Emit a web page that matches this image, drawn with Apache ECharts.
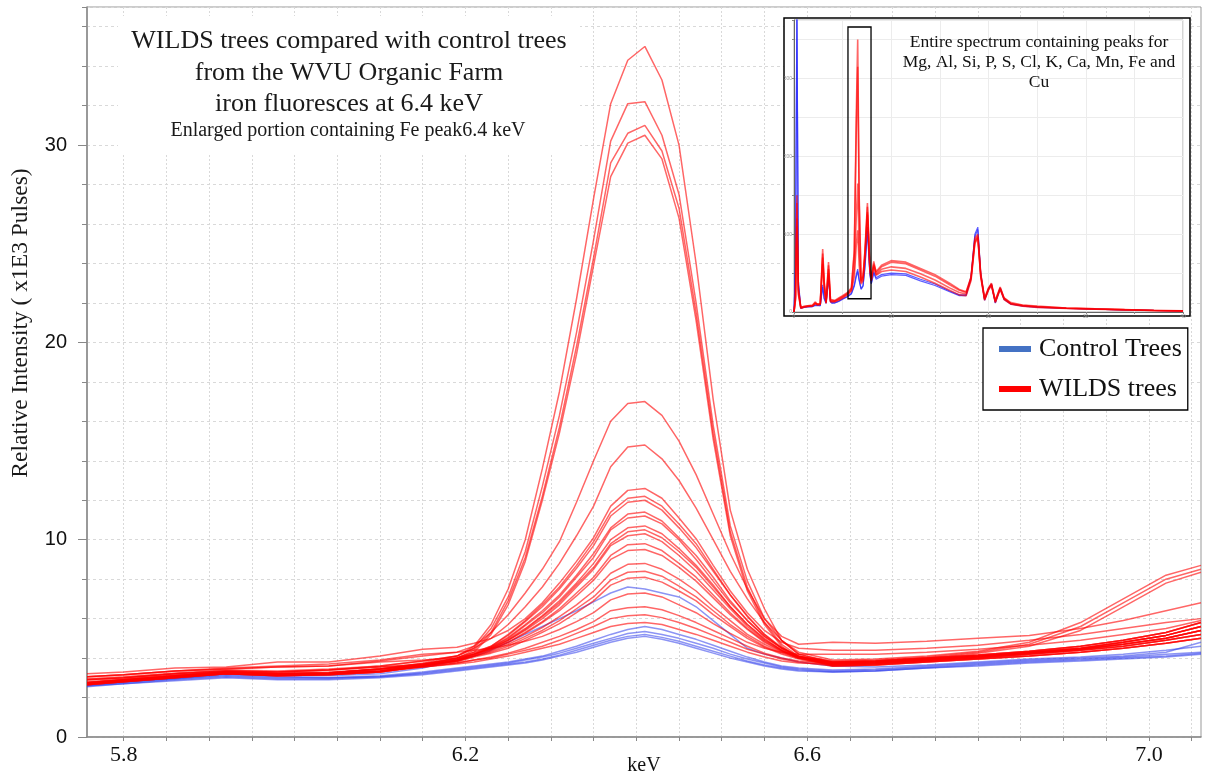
<!DOCTYPE html>
<html>
<head>
<meta charset="utf-8">
<script src="https://cdn.jsdelivr.net/npm/echarts@6.0.0/dist/echarts.min.js"></script>
<style>
html,body{margin:0;padding:0;background:#fff;}
#chart{width:1209px;height:782px;}
</style>
</head>
<body>
<div id="chart"></div>
<script>
// ---------- main chart data (keV vs relative intensity, x1E3 pulses) ----------
const keV = [5.757, 5.80, 5.86, 5.92, 5.98, 6.04, 6.10, 6.15,
  6.19, 6.21, 6.23, 6.25, 6.27, 6.29, 6.31, 6.33, 6.35, 6.37, 6.39, 6.41, 6.43, 6.45, 6.47, 6.49, 6.51, 6.53, 6.55, 6.57, 6.59,
  6.63, 6.68, 6.74, 6.80, 6.86, 6.92, 6.97, 7.02, 7.061];

const wilds01 = [2.9, 3.0, 3.2, 3.35, 3.3, 3.4, 3.6, 3.85,
  4.1, 4.6, 5.7, 7.5, 10.0, 13.6, 17.5, 22.2, 27.3, 32.1, 34.3, 35.0, 33.3, 30.0, 24.0, 17.1, 11.5, 8.5, 6.5, 4.9, 4.2,
  3.75, 3.8, 3.95, 4.1, 4.3, 4.5, 4.8, 5.15, 5.6];
const wilds02 = [2.75, 2.9, 3.1, 3.3, 3.2, 3.25, 3.45, 3.75,
  4.1, 4.5, 5.5, 7.1, 9.4, 12.7, 16.3, 20.5, 25.2, 30.2, 32.1, 32.2, 30.5, 27.5, 22.0, 15.8, 10.7, 7.9, 6.0, 4.9, 4.2,
  3.8, 3.85, 4.0, 4.15, 4.35, 4.6, 4.9, 5.3, 5.8];
const wilds03 = [2.7, 2.85, 3.05, 3.25, 3.15, 3.2, 3.35, 3.7,
  4.0, 4.4, 5.3, 6.9, 9.1, 12.2, 15.7, 19.8, 24.3, 29.1, 30.6, 31.0, 29.7, 26.8, 21.5, 15.4, 10.4, 7.6, 5.8, 4.7, 4.1,
  3.7, 3.75, 3.9, 4.05, 4.25, 4.45, 4.7, 5.0, 5.4];
const wilds04 = [2.8, 2.95, 3.15, 3.3, 3.25, 3.3, 3.45, 3.7,
  4.0, 4.3, 5.2, 6.7, 8.9, 12.0, 15.4, 19.4, 23.9, 28.4, 30.1, 30.5, 29.3, 26.3, 21.1, 15.1, 10.2, 7.4, 5.7, 4.6, 4.0,
  3.65, 3.7, 3.85, 4.0, 4.2, 4.4, 4.6, 4.9, 5.2];
const wilds05 = [3.05, 3.15, 3.35, 3.45, 3.55, 3.6, 3.85, 4.1,
  4.3, 4.6, 5.3, 6.2, 7.3, 8.5, 9.9, 11.9, 14.0, 16.0, 16.9, 17.0, 16.3, 15.0, 13.3, 11.3, 9.3, 7.5, 6.0, 5.1, 4.7,
  4.8, 4.75, 4.85, 5.0, 5.15, 5.5, 5.9, 6.4, 6.8];
const wilds06 = [2.95, 3.05, 3.25, 3.4, 3.35, 3.45, 3.6, 3.85,
  4.1, 4.5, 5.0, 5.7, 6.6, 7.6, 8.8, 10.2, 11.7, 13.7, 14.7, 14.8, 14.1, 13.0, 11.6, 10.0, 8.4, 7.0, 5.8, 4.9, 4.3,
  3.9, 3.95, 4.1, 4.35, 4.8, 5.8, 7.0, 8.2, 8.7];
const wilds07 = [3.2, 3.3, 3.5, 3.55, 3.8, 3.8, 4.1, 4.45,
  4.55, 4.75, 5.0, 5.4, 6.0, 6.8, 7.8, 8.9, 10.1, 11.7, 12.5, 12.6, 12.1, 11.1, 10.05, 8.7, 7.4, 6.3, 5.4, 4.8, 4.5,
  4.4, 4.4, 4.5, 4.65, 4.9, 5.2, 5.5, 5.8, 6.0];
const wilds08 = [2.7, 2.85, 3.05, 3.2, 3.15, 3.2, 3.35, 3.65,
  4.0, 4.3, 4.6, 5.2, 5.9, 6.7, 7.6, 8.7, 9.9, 11.4, 12.1, 12.2, 11.7, 10.8, 9.8, 8.5, 7.2, 6.15, 5.2, 4.55, 4.1,
  3.85, 3.9, 4.05, 4.3, 4.7, 5.6, 6.8, 8.0, 8.5];
const wilds09 = [2.65, 2.8, 3.0, 3.2, 3.1, 3.15, 3.3, 3.6,
  3.95, 4.25, 4.6, 5.15, 5.85, 6.6, 7.5, 8.55, 9.7, 11.2, 11.9, 12.0, 11.5, 10.6, 9.6, 8.4, 7.2, 6.1, 5.2, 4.5, 4.1,
  3.75, 3.8, 3.95, 4.1, 4.3, 4.5, 4.8, 5.15, 5.6];
const wilds10 = [2.75, 2.9, 3.1, 3.3, 3.2, 3.25, 3.45, 3.7,
  3.95, 4.2, 4.55, 5.05, 5.7, 6.4, 7.2, 8.2, 9.3, 10.6, 11.3, 11.4, 10.95, 10.1, 9.2, 8.1, 6.9, 5.9, 5.1, 4.5, 4.1,
  3.7, 3.75, 3.9, 4.05, 4.25, 4.45, 4.7, 5.0, 5.4];
const wilds11 = [2.9, 3.0, 3.2, 3.35, 3.3, 3.4, 3.55, 3.7,
  3.9, 4.2, 4.55, 5.0, 5.65, 6.3, 7.1, 8.1, 9.1, 10.5, 11.1, 11.2, 10.8, 10.0, 9.0, 7.9, 6.8, 5.9, 5.1, 4.5, 4.05,
  3.8, 3.85, 4.0, 4.25, 4.6, 5.4, 6.6, 7.8, 8.35];
const wilds12 = [2.7, 2.85, 3.05, 3.25, 3.15, 3.2, 3.35, 3.6,
  3.9, 4.2, 4.5, 4.95, 5.5, 6.15, 6.9, 7.8, 8.8, 10.0, 10.6, 10.7, 10.3, 9.55, 8.7, 7.7, 6.6, 5.7, 5.0, 4.4, 4.05,
  3.8, 3.85, 4.0, 4.15, 4.35, 4.6, 4.9, 5.3, 5.8];
const wilds13 = [2.65, 2.8, 3.0, 3.2, 3.1, 3.15, 3.3, 3.6,
  3.9, 4.15, 4.5, 4.9, 5.45, 6.1, 6.8, 7.7, 8.6, 9.8, 10.4, 10.5, 10.1, 9.4, 8.6, 7.6, 6.6, 5.7, 4.95, 4.4, 4.05,
  3.65, 3.7, 3.85, 4.0, 4.2, 4.4, 4.6, 4.9, 5.2];
const wilds14 = [2.75, 2.9, 3.1, 3.3, 3.2, 3.25, 3.45, 3.65,
  3.85, 4.15, 4.45, 4.9, 5.4, 6.0, 6.7, 7.6, 8.5, 9.7, 10.2, 10.3, 9.9, 9.2, 8.4, 7.45, 6.5, 5.6, 4.9, 4.4, 4.05,
  3.6, 3.65, 3.8, 3.95, 4.1, 4.3, 4.5, 4.75, 5.0];
const wilds15 = [3.05, 3.15, 3.35, 3.45, 3.55, 3.6, 3.8, 3.9,
  4.0, 4.2, 4.45, 4.8, 5.3, 5.85, 6.5, 7.3, 8.1, 9.2, 9.75, 9.8, 9.45, 8.8, 8.1, 7.2, 6.3, 5.5, 4.85, 4.35, 4.0,
  3.75, 3.8, 3.95, 4.1, 4.3, 4.5, 4.8, 5.15, 5.6];
const wilds16 = [2.7, 2.85, 3.05, 3.25, 3.15, 3.2, 3.35, 3.6,
  3.85, 4.1, 4.4, 4.8, 5.25, 5.8, 6.4, 7.15, 7.95, 9.0, 9.45, 9.5, 9.2, 8.6, 7.9, 7.05, 6.2, 5.45, 4.8, 4.35, 4.0,
  3.7, 3.75, 3.9, 4.05, 4.25, 4.45, 4.7, 5.0, 5.4];
const wilds17 = [2.65, 2.8, 3.0, 3.2, 3.1, 3.15, 3.3, 3.6,
  3.85, 4.1, 4.35, 4.7, 5.1, 5.55, 6.1, 6.7, 7.4, 8.3, 8.75, 8.8, 8.5, 8.0, 7.4, 6.6, 5.9, 5.2, 4.7, 4.3, 4.0,
  3.8, 3.85, 4.0, 4.15, 4.35, 4.6, 4.9, 5.3, 5.8];
const wilds18 = [2.9, 3.0, 3.2, 3.35, 3.3, 3.4, 3.55, 3.65,
  3.85, 4.1, 4.3, 4.6, 5.0, 5.4, 5.9, 6.5, 7.1, 7.95, 8.35, 8.4, 8.15, 7.65, 7.1, 6.4, 5.7, 5.1, 4.6, 4.25, 4.0,
  3.65, 3.7, 3.85, 4.0, 4.2, 4.4, 4.6, 4.9, 5.2];
const wilds19 = [2.75, 2.9, 3.1, 3.3, 3.2, 3.25, 3.45, 3.6,
  3.8, 4.05, 4.25, 4.5, 4.9, 5.3, 5.75, 6.3, 6.9, 7.7, 8.05, 8.1, 7.85, 7.4, 6.9, 6.2, 5.6, 5.0, 4.55, 4.2, 3.95,
  3.6, 3.65, 3.8, 3.95, 4.1, 4.3, 4.5, 4.75, 5.0];
const wilds20 = [3.05, 3.15, 3.35, 3.5, 3.6, 3.7, 3.9, 4.2,
  4.3, 4.4, 4.5, 4.65, 4.85, 5.1, 5.45, 5.85, 6.3, 6.95, 7.25, 7.3, 7.1, 6.7, 6.3, 5.75, 5.25, 4.8, 4.5, 4.3, 4.2,
  4.2, 4.2, 4.3, 4.45, 4.65, 4.9, 5.2, 5.5, 5.9];
const wilds21 = [2.7, 2.85, 3.05, 3.25, 3.15, 3.2, 3.35, 3.55,
  3.75, 3.9, 4.05, 4.25, 4.5, 4.8, 5.1, 5.45, 5.85, 6.4, 6.55, 6.6, 6.45, 6.15, 5.8, 5.4, 5.0, 4.6, 4.25, 4.0, 3.85,
  3.75, 3.8, 3.95, 4.1, 4.3, 4.5, 4.8, 5.15, 5.6];
const wilds22 = [2.65, 2.8, 3.0, 3.2, 3.1, 3.15, 3.3, 3.55,
  3.75, 3.9, 4.0, 4.2, 4.4, 4.6, 4.9, 5.25, 5.6, 6.0, 6.15, 6.2, 6.05, 5.8, 5.5, 5.15, 4.8, 4.45, 4.2, 3.95, 3.8,
  3.6, 3.65, 3.8, 3.95, 4.1, 4.3, 4.5, 4.75, 5.0];
const wilds23 = [2.75, 2.9, 3.1, 3.3, 3.2, 3.25, 3.45, 3.55,
  3.7, 3.8, 3.95, 4.1, 4.3, 4.5, 4.7, 5.0, 5.3, 5.6, 5.75, 5.8, 5.7, 5.45, 5.2, 4.9, 4.6, 4.3, 4.05, 3.85, 3.75,
  3.7, 3.75, 3.9, 4.05, 4.25, 4.45, 4.7, 5.0, 5.4];

const control01 = [2.7, 2.8, 3.0, 3.2, 3.1, 3.1, 3.2, 3.5,
  3.9, 4.1, 4.4, 4.8, 5.2, 5.6, 6.0, 6.4, 6.85, 7.3, 7.6, 7.5, 7.3, 7.1, 6.6, 5.9, 5.2, 4.5, 4.2, 4.0, 3.8,
  3.6, 3.55, 3.65, 3.8, 3.95, 4.05, 4.2, 4.4, 4.6];
const control02 = [2.65, 2.8, 2.95, 3.1, 3.0, 3.0, 3.1, 3.3,
  3.5, 3.6, 3.7, 3.8, 3.95, 4.1, 4.35, 4.6, 4.9, 5.2, 5.45, 5.6, 5.45, 5.2, 4.95, 4.65, 4.35, 4.05, 3.8, 3.6, 3.5,
  3.4, 3.45, 3.6, 3.75, 3.9, 4.0, 4.1, 4.3, 4.8];
const control03 = [2.6, 2.75, 2.95, 3.15, 3.05, 3.0, 3.05, 3.25,
  3.45, 3.55, 3.65, 3.75, 3.9, 4.05, 4.25, 4.5, 4.75, 5.0, 5.25, 5.35, 5.2, 5.0, 4.75, 4.5, 4.2, 3.95, 3.75, 3.55, 3.45,
  3.35, 3.4, 3.55, 3.7, 3.85, 3.95, 4.05, 4.2, 4.3];
const control04 = [2.6, 2.7, 2.9, 3.05, 2.95, 2.95, 3.05, 3.2,
  3.4, 3.5, 3.6, 3.7, 3.8, 3.95, 4.15, 4.4, 4.65, 4.9, 5.1, 5.2, 5.05, 4.85, 4.6, 4.35, 4.1, 3.85, 3.65, 3.5, 3.4,
  3.3, 3.35, 3.5, 3.65, 3.8, 3.9, 4.0, 4.1, 4.25];
const control05 = [2.55, 2.7, 2.85, 3.0, 2.9, 2.9, 3.0, 3.15,
  3.35, 3.45, 3.55, 3.65, 3.75, 3.9, 4.1, 4.3, 4.55, 4.8, 5.0, 5.1, 4.95, 4.75, 4.5, 4.25, 4.0, 3.8, 3.6, 3.45, 3.35,
  3.3, 3.35, 3.5, 3.6, 3.75, 3.85, 3.95, 4.05, 4.2];

const wildsList = [wilds01, wilds02, wilds03, wilds04, wilds05, wilds06, wilds07, wilds08, wilds09, wilds10, wilds11, wilds12,
  wilds13, wilds14, wilds15, wilds16, wilds17, wilds18, wilds19, wilds20, wilds21, wilds22, wilds23];
const controlList = [control01, control02, control03, control04, control05];

// tick / label values
const xTickValues = [5.8, 5.85, 5.9, 5.95, 6.0, 6.05, 6.1, 6.15, 6.2, 6.25, 6.3, 6.35, 6.4, 6.45, 6.5, 6.55, 6.6,
  6.65, 6.7, 6.75, 6.8, 6.85, 6.9, 6.95, 7.0, 7.05];
const xLabelValues = [5.8, 6.2, 6.6, 7.0];
const yLabelValues = [0, 10, 20, 30];

// ---------- inset: entire spectrum ----------
const insetKeV = [0, 0.15, 0.3, 0.45, 0.7, 1.0, 1.4, 1.6, 1.9, 2.2,
  2.4, 2.7, 2.95, 3.1, 3.3, 3.55, 3.75, 3.9, 4.2, 4.6,
  5.0, 5.5, 5.9, 6.2, 6.4, 6.55, 6.7, 6.9, 7.1, 7.3,
  7.55, 7.8, 7.95, 8.2, 8.45, 9.0, 10, 11.5, 13, 14.5,
  16, 17, 17.7, 18.2, 18.6, 18.9, 19.2, 19.6, 20.0, 20.3,
  20.7, 21.2, 21.6, 22.3, 23.5, 25, 28, 31, 34, 37, 40];
const insetWilds1 = [0, 20, 150, 30, 6, 7, 8, 7, 8, 12,
  9, 10, 81, 40, 12, 64, 15, 13, 14, 17,
  20, 24, 30, 80, 250, 350, 150, 40, 45, 80,
  140, 60, 42, 65, 50, 58, 64, 62, 54, 46,
  35, 28, 25, 45, 95, 100, 50, 17, 30, 37,
  14, 32, 18, 11, 8.5, 7, 5, 4, 3, 2, 1.5];
const insetWilds2 = [0, 18, 140, 28, 6, 7, 8, 7, 9, 13,
  9, 11, 75, 38, 13, 60, 16, 14, 15, 18,
  21, 25, 31, 75, 230, 315, 140, 41, 46, 78,
  135, 58, 43, 62, 52, 60, 66, 64, 56, 48,
  37, 29, 26, 44, 92, 98, 48, 18, 31, 36,
  15, 31, 18, 12, 9, 7.5, 5.2, 4, 3, 2.2, 1.5];
const insetWilds3 = [0, 16, 120, 25, 5, 6, 7, 6.5, 8, 11,
  8.5, 10, 70, 35, 12, 55, 14, 13, 14, 16,
  19, 23, 28, 55, 120, 165, 80, 38, 42, 72,
  128, 56, 41, 60, 48, 55, 58, 56, 49, 41,
  31, 25, 23, 42, 90, 96, 46, 16, 29, 35,
  13, 30, 17, 10.5, 8, 6.5, 4.8, 3.8, 2.8, 2, 1.4];
const insetWilds4 = [0, 15, 110, 22, 5, 6, 7, 6.5, 7.5, 10.5,
  8, 9.5, 62, 32, 11, 50, 13, 12, 13, 15,
  18, 22, 27, 45, 85, 105, 60, 36, 40, 70,
  125, 55, 40, 58, 47, 52, 54, 52, 45, 37,
  28, 22, 21, 40, 88, 95, 45, 15, 28, 34,
  12, 29, 16, 10, 7.5, 6, 4.5, 3.5, 2.6, 1.9, 1.3];
const insetControl1 = [0, 60, 400, 40, 5, 6, 7, 6, 7, 9,
  7, 8, 35, 18, 12, 47, 14, 11, 12, 14,
  17, 20, 24, 35, 48, 55, 42, 30, 34, 60,
  109, 50, 37, 52, 44, 48, 50, 49, 42, 36,
  27, 22, 22, 45, 100, 109, 50, 16, 30, 36,
  12, 31, 17, 10.5, 8, 6.5, 4.8, 3.8, 2.8, 2, 1.4];
const insetControl2 = [0, 50, 380, 35, 5, 6, 6.5, 6, 7, 8.5,
  7, 8, 32, 17, 11, 43, 13, 10.5, 11.5, 13.5,
  16.5, 19.5, 23, 33, 45, 52, 40, 29, 33, 57,
  104, 48, 36, 50, 42, 46, 48, 47, 40, 34,
  26, 21, 21, 43, 97, 106, 48, 15, 29, 35,
  11.5, 30, 16, 10, 7.5, 6, 4.5, 3.5, 2.6, 1.9, 1.3];
const insetWildsList = [insetWilds1, insetWilds2, insetWilds3, insetWilds4];
const insetControlList = [insetControl1, insetControl2];
const zoomBox = [[5.55, 17], [7.92, 366]];

const titleLines = ['WILDS trees compared with control trees', 'from the WVU Organic Farm', 'iron fluoresces at 6.4 keV',
  'Enlarged portion containing Fe peak6.4 keV'];
const insetLines = ['Entire spectrum containing peaks for', 'Mg, Al, Si, P, S, Cl, K, Ca, Mn, Fe and', 'Cu'];

// ---------- build ----------
const RED = 'rgba(255,0,0,0.6)';
const BLUE = 'rgba(45,60,235,0.55)';
const SERIF = '"Liberation Serif", "Times New Roman", serif';
const SANS = '"Liberation Sans", Arial, sans-serif';

const series = [];
controlList.forEach(v => series.push({
  type: 'line', name: 'Control Trees', xAxisIndex: 0, yAxisIndex: 0, symbol: 'none', silent: true, z: 2,
  data: keV.map((x, i) => [x, v[i]]), lineStyle: { color: BLUE, width: 1.5 }, itemStyle: { color: BLUE }
}));
wildsList.forEach(v => series.push({
  type: 'line', name: 'WILDS trees', xAxisIndex: 0, yAxisIndex: 0, symbol: 'none', silent: true, z: 3,
  data: keV.map((x, i) => [x, v[i]]), lineStyle: { color: RED, width: 1.5 }, itemStyle: { color: RED }
}));
insetControlList.forEach(v => series.push({
  type: 'line', name: 'insetC', xAxisIndex: 1, yAxisIndex: 2, symbol: 'none', silent: true, z: 7,
  data: insetKeV.map((x, i) => [x, v[i]]), lineStyle: { color: 'rgba(40,40,255,0.75)', width: 1.2 }
}));
insetWildsList.forEach((v, k) => series.push({
  type: 'line', name: 'insetW', xAxisIndex: 1, yAxisIndex: 2, symbol: 'none', silent: true, z: 8,
  data: insetKeV.map((x, i) => [x, v[i]]), lineStyle: { color: 'rgba(255,0,0,0.6)', width: 1.6 },
  markArea: k === 0 ? {
    silent: true, z: 9,
    itemStyle: { color: 'rgba(0,0,0,0)', borderColor: '#000', borderWidth: 1.3 },
    data: [[{ coord: zoomBox[0] }, { coord: zoomBox[1] }]]
  } : undefined
}));

const graphics = [
  { type: 'rect', shape: { x: 118, y: 16, width: 462, height: 138 }, style: { fill: '#fff' }, z: 1, silent: true },
  { type: 'rect', shape: { x: 784, y: 18, width: 406, height: 298 }, style: { fill: '#fff', stroke: '#000', lineWidth: 1.5 }, z: 1, silent: true },
  { type: 'text', x: 349, y: 41, z: 10, style: { text: titleLines[0], font: '26px ' + SERIF, fill: '#1a1a1a', align: 'center', verticalAlign: 'middle' } },
  { type: 'text', x: 349, y: 73, z: 10, style: { text: titleLines[1], font: '26px ' + SERIF, fill: '#1a1a1a', align: 'center', verticalAlign: 'middle' } },
  { type: 'text', x: 349, y: 104, z: 10, style: { text: titleLines[2], font: '26px ' + SERIF, fill: '#1a1a1a', align: 'center', verticalAlign: 'middle' } },
  { type: 'text', x: 348, y: 131, z: 10, style: { text: titleLines[3], font: '20px ' + SERIF, fill: '#1a1a1a', align: 'center', verticalAlign: 'middle' } },
  { type: 'text', x: 1039, y: 42, z: 10, style: { text: insetLines[0], font: '17.5px ' + SERIF, fill: '#111', align: 'center', verticalAlign: 'middle' } },
  { type: 'text', x: 1039, y: 62, z: 10, style: { text: insetLines[1], font: '17.5px ' + SERIF, fill: '#111', align: 'center', verticalAlign: 'middle' } },
  { type: 'text', x: 1039, y: 82, z: 10, style: { text: insetLines[2], font: '17.5px ' + SERIF, fill: '#111', align: 'center', verticalAlign: 'middle' } },
  { type: 'text', x: 21, y: 323, rotation: Math.PI / 2, z: 10, style: { text: 'Relative Intensity ( x1E3 Pulses)', font: '23.5px ' + SERIF, fill: '#1a1a1a', align: 'center', verticalAlign: 'middle' } }
];

const chart = echarts.init(document.getElementById('chart'), null, { renderer: 'canvas' });
chart.setOption({
  animation: false,
  backgroundColor: '#fff',
  grid: [
    { left: 87, top: 7, right: 8, bottom: 45, show: true, borderColor: '#999', borderWidth: 1, backgroundColor: 'transparent', outerBoundsMode: 'none', containLabel: false },
    { left: 794, top: 20, width: 389, height: 292, show: true, borderColor: '#aaa', borderWidth: 1, backgroundColor: 'transparent', z: 3, outerBoundsMode: 'none', containLabel: false }
  ],
  xAxis: [
    {
      gridIndex: 0, type: 'value', min: 5.757, max: 7.061,
      axisLine: { show: true, onZero: false, lineStyle: { color: '#888', width: 1.5 } },
      axisTick: { show: true, customValues: xTickValues, length: 4, lineStyle: { color: '#888' } },
      axisLabel: { customValues: xLabelValues, formatter: v => v.toFixed(1), fontFamily: SERIF, fontSize: 22, color: '#111', margin: 7 },
      splitLine: { show: true, lineStyle: { color: '#d9d9d9', type: [2, 2], width: 1 } },
      name: 'keV', nameLocation: 'middle', nameGap: 19, nameMoveOverlap: false,
      nameTextStyle: { fontFamily: SERIF, fontSize: 20, color: '#111' }
    },
    {
      gridIndex: 1, type: 'value', min: 0, max: 40, interval: 5, z: 5,
      axisLine: { show: true, onZero: false, lineStyle: { color: '#666', width: 1 } },
      axisTick: { show: true, length: 2, lineStyle: { color: '#888' } },
      axisLabel: { fontSize: 5, color: '#999', margin: 2, formatter: v => (v % 10 === 0 ? String(v) : '') },
      splitLine: { show: true, lineStyle: { color: '#ececec', width: 1 } }
    }
  ],
  yAxis: [
    {
      gridIndex: 0, type: 'value', min: 0, max: 37, interval: 2,
      axisLine: { show: true, onZero: false, lineStyle: { color: '#888', width: 1.5 } },
      axisTick: { show: true, length: 5, lineStyle: { color: '#888' } },
      axisLabel: { customValues: yLabelValues, fontFamily: SANS, fontSize: 20, color: '#111', margin: 20 },
      splitLine: { show: true, lineStyle: { color: '#d9d9d9', type: [3, 3], width: 1 } }
    },
    {
      gridIndex: 0, type: 'value', min: 0, max: 37, position: 'left',
      axisLine: { show: false },
      axisTick: { show: true, customValues: yLabelValues, length: 9, lineStyle: { color: '#888' } },
      axisLabel: { show: false }, splitLine: { show: false }
    },
    {
      gridIndex: 1, type: 'value', min: 0, max: 375, interval: 50, z: 5,
      axisLine: { show: true, onZero: false, lineStyle: { color: '#666', width: 1 } },
      axisTick: { show: true, length: 2, lineStyle: { color: '#888' } },
      axisLabel: { fontSize: 5, color: '#999', margin: 2, formatter: v => (v % 100 === 0 ? String(v) : '') },
      splitLine: { show: true, lineStyle: { color: '#ececec', width: 1 } }
    }
  ],
  legend: {
    show: true, orient: 'vertical', left: 983, top: 328,
    data: [
      { name: 'Control Trees', icon: 'rect', itemStyle: { color: '#4472C4' } },
      { name: 'WILDS trees', icon: 'rect', itemStyle: { color: '#FF0000' } }
    ],
    itemWidth: 32, itemHeight: 6, itemGap: 14, padding: [8, 6, 8, 16],
    borderColor: '#000', borderWidth: 1.3, backgroundColor: '#fff', selectedMode: false,
    textStyle: { fontFamily: SERIF, fontSize: 26, color: '#111', padding: [0, 0, 0, 3] }
  },
  graphic: { elements: graphics },
  series: series
});
</script>
</body>
</html>
